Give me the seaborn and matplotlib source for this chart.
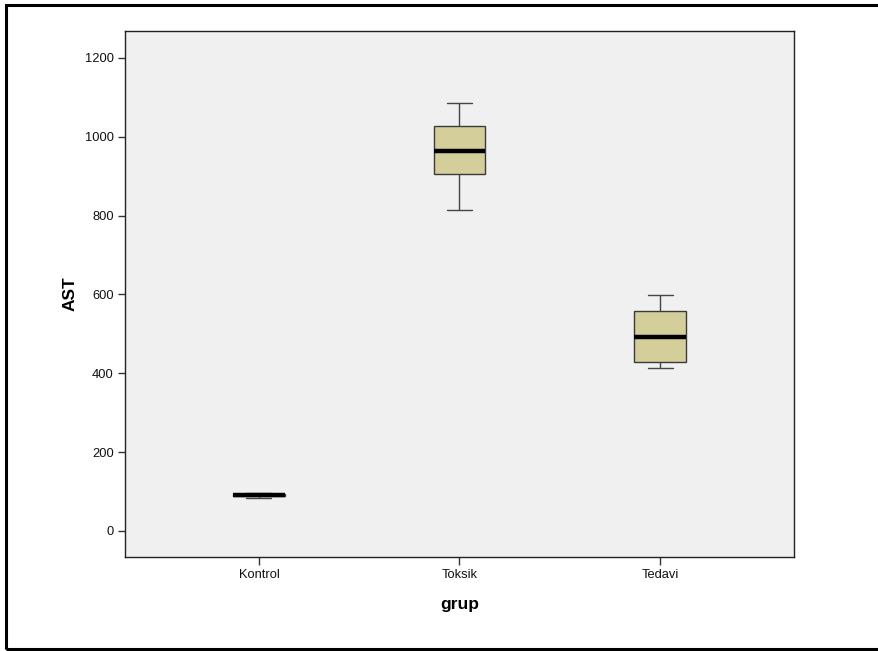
import matplotlib
matplotlib.use("Agg")
import matplotlib.pyplot as plt
import seaborn as sns
import pandas as pd
from matplotlib.patches import Rectangle

# Five-number summaries (min, Q1, median, Q3, max) of AST per group
groups = ["Kontrol", "Toksik", "Tedavi"]
kontrol_ast = [83, 88, 90, 93, 97]
toksik_ast = [815, 906, 964, 1028, 1086]
tedavi_ast = [414, 429, 492, 558, 599]

yticks = [0, 200, 400, 600, 800, 1000, 1200]

df = pd.DataFrame({
    "grup": [g for g, vals in zip(groups, [kontrol_ast, toksik_ast, tedavi_ast]) for _ in vals],
    "AST": kontrol_ast + toksik_ast + tedavi_ast,
})

sns.set_theme(style="white")
plt.rcParams["font.family"] = ["Liberation Sans", "DejaVu Sans"]
plt.rcParams["text.color"] = "black"
plt.rcParams["axes.labelcolor"] = "black"

fig = plt.figure(figsize=(8.79, 6.51), dpi=100)
ax = fig.add_axes([125 / 879, 1 - 557 / 651, 669 / 879, 526 / 651])
ax.set_facecolor("#F0F0F0")

sns.boxplot(
    data=df, x="grup", y="AST", order=groups, ax=ax,
    color="#D3CE9A", saturation=1, width=0.255, whis=10,
    linewidth=1.0, linecolor="#3A3A3A",
    medianprops=dict(color="black", linewidth=3.2),
    whiskerprops=dict(color="#444444", linewidth=1.0),
    capprops=dict(color="#444444", linewidth=1.0),
    boxprops=dict(edgecolor="#3A3A3A", linewidth=1.0),
    capwidths=0.125,
)

ax.set_xlim(-0.668, 2.668)
ax.set_ylim(-66, 1268)
ax.set_yticks(yticks)
ax.set_yticklabels([str(v) for v in yticks])

for s in ax.spines.values():
    s.set_visible(True)
    s.set_color("#222222")
    s.set_linewidth(1.0)

ax.tick_params(axis="both", which="both", direction="out", length=5, width=1,
               color="#333333", labelsize=9.3, labelcolor="#111111", pad=3,
               left=True, bottom=True)
ax.tick_params(axis="x", length=6)

ax.set_xlabel("grup", fontsize=12.5, fontweight="bold", labelpad=11, color="black")
ax.set_ylabel("AST", fontsize=12.5, fontweight="bold", labelpad=5, color="black")

# Outer frame around the whole chart
fig.patches.append(Rectangle((6.5 / 879, 2.5 / 651), 1.0, 1 - 7 / 651,
                             transform=fig.transFigure, fill=False,
                             edgecolor="black", linewidth=2.2, clip_on=False))

fig.savefig("out.png", dpi=100)
